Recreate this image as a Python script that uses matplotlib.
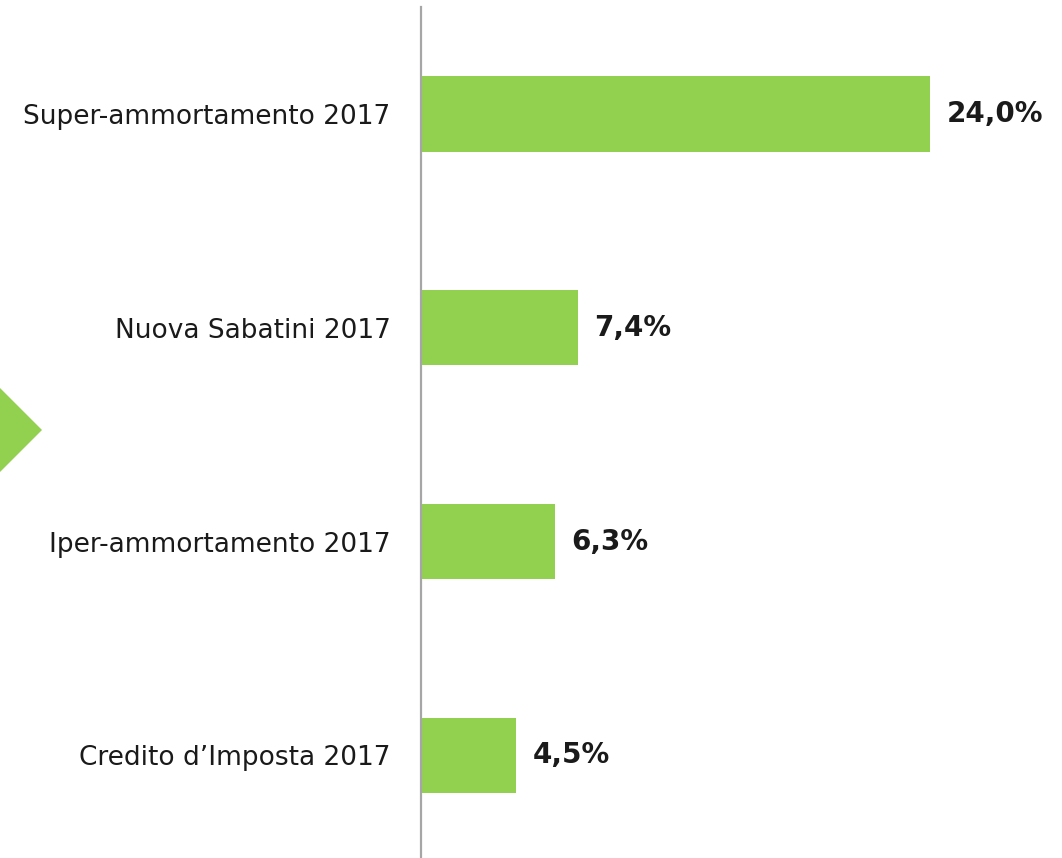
import matplotlib
matplotlib.use("Agg")
import matplotlib.pyplot as plt
from matplotlib.patches import Polygon

categories = ["Super-ammortamento 2017", "Nuova Sabatini 2017",
              "Iper-ammortamento 2017", "Credito d\u2019Imposta 2017"]
values = [24.0, 7.4, 6.3, 4.5]
value_labels = ["24,0%", "7,4%", "6,3%", "4,5%"]

W, H = 1062, 858
fig = plt.figure(figsize=(W / 100, H / 100), dpi=100)
fig.patch.set_facecolor("white")

green = "#92D050"
ax = fig.add_axes([421 / W, 0.0, 1 - 421 / W, (H - 7) / H])
y = list(range(len(categories)))
ax.barh(y, values, height=0.352, color=green, zorder=2)
ax.set_xlim(0, (W - 421) / 21.2)
ax.set_ylim(3.48, -0.50)
for s in ["top", "right", "bottom"]:
    ax.spines[s].set_visible(False)
ax.spines["left"].set_color("#A6A6A6")
ax.spines["left"].set_linewidth(1.6)
ax.set_xticks([])
ax.set_yticks(y)
ax.set_yticklabels(categories, fontsize=19, color="#1a1a1a", family="DejaVu Sans")
ax.tick_params(axis="y", length=0, pad=22)

for yi, v, lab in zip(y, values, value_labels):
    ax.annotate(lab, (v, yi), xytext=(12, 0), textcoords="offset points",
                ha="left", va="center", fontsize=20, fontweight="bold",
                color="#1a1a1a", family="DejaVu Sans")

tri = Polygon([(0, 1 - 388 / H), (42 / W, 1 - 430 / H), (0, 1 - 472 / H)],
              closed=True, transform=fig.transFigure, facecolor=green,
              edgecolor="none")
fig.patches.append(tri)

fig.savefig("out.png", dpi=100)
